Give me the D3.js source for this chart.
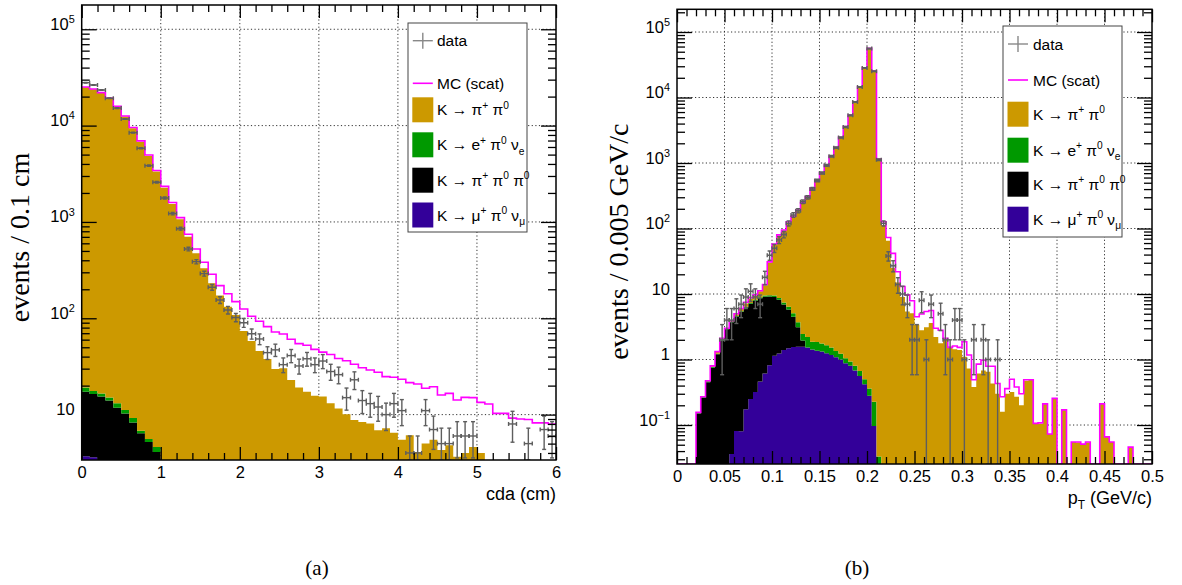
<!DOCTYPE html>
<html>
<head>
<meta charset="utf-8">
<script src="https://cdn.jsdelivr.net/npm/d3@7"></script>
<style>
  body { margin: 0; background: #fff; }
  svg { display: block; }
</style>
</head>
<body>
<div id="canvas"></div>
<script>
// ////////// DATA /////////////

// panel (a): cda, 60 bins of 0.1 cm
var cdaGold = [
  24980, 23780, 21780, 19080, 15690, 12390, 9390, 6790, 4830, 3325,
  2270, 1536, 1066, 703, 473, 330, 231, 172, 132, 108,
  74, 58, 45.7, 37.8, 29.8, 30.2, 22.9, 19.1, 17.3, 15.7,
  15.4, 13.1, 11.6, 10.1, 8.8, 8.4, 8.1, 6.9, 7.2, 6.5,
  5.5, 6.1, 4.1, 5.0, 5.5, 4.3, 4.8, 3.66, 4.0, 4.6,
  4.0, 0, 0, 0, 0, 0, 0, 0, 0, 0
]
var cdaGreen = [
  1.8, 1.2, 1.2, 1.1, 1.3, 0.9, 0.9, 0.4, 0.4, 0.5,
  0, 0, 0, 0, 0, 0, 0, 0, 0, 0,
  0, 0, 0, 0, 0, 0, 0, 0, 0, 0,
  0, 0, 0, 0, 0, 0, 0, 0, 0, 0,
  0, 0, 0, 0, 0, 0, 0, 0, 0, 0,
  0, 0, 0, 0, 0, 0, 0, 0, 0, 0
]
var cdaBlack = [
  13.6, 12.8, 15.4, 14.0, 11.8, 10.3, 8.3, 6.4, 5.2, 4.1,
  0, 0, 0, 0, 0, 0, 0, 0, 0, 0,
  0, 0, 0, 0, 0, 0, 0, 0, 0, 0,
  0, 0, 0, 0, 0, 0, 0, 0, 0, 0,
  0, 0, 0, 0, 0, 0, 0, 0, 0, 0,
  0, 0, 0, 0, 0, 0, 0, 0, 0, 0
]
var cdaPurple = [
  3.7, 3.6, 0, 0, 0, 0, 0, 0, 0, 0,
  0, 0, 0, 0, 0, 0, 0, 0, 0, 0,
  0, 0, 0, 0, 0, 0, 0, 0, 0, 0,
  0, 0, 0, 0, 0, 0, 0, 0, 0, 0,
  0, 0, 0, 0, 0, 0, 0, 0, 0, 0,
  0, 0, 0, 0, 0, 0, 0, 0, 0, 0
]
var cdaMC = [
  25200, 24000, 22000, 19300, 15900, 12600, 9550, 6950, 4950, 3420,
  2340, 1590, 1110, 745, 524, 381, 286, 218, 180, 149,
  125, 105, 93, 82, 72, 68.7, 60.5, 54.5, 52.5, 47.6,
  44.5, 42, 38.2, 36.3, 33.3, 30.7, 29, 27.5, 24.8, 24.4,
  23.3, 21.5, 20.8, 18.8, 19.5, 16, 16.6, 14.2, 15.1, 15,
  13.4, 12.9, 10.3, 10.3, 9.2, 9.0, 8.9, 8.2, 8.2, 8.0
]
var cdaData = [
  27900, 26400, 23400, 19200, 15200, 11700, 8450, 5820, 3840, 2580,
  1770, 1220, 851, 524, 387, 291, 210, 155, 122, 102,
  90, 69, 61, 44, 47, 33, 41, 32, 38, 33,
  36, 28, 26, 15, 23, 14, 13, 12, 10, 13,
  11, 4, 4, 11, 7, 5, 5, 6, 6, 6,
  0, 0, 0, 0, 8, 0, 5, 0, 7, 6
]

// panel (b): pT, 100 bins of 0.005 GeV/c
var ptGold = [
  0, 0, 0, 0, 0.003, 0.005, 0.01, 0.02, 0.07, 0.08,
  0.02, 0.1, 0.28, 0.45, 0.8, 1.2, 1.35, 2.1, 4.0, 20.4,
  46.5, 69.3, 85.5, 117.6, 146.9, 184.3, 242.5, 297.8, 403, 543,
  703, 923, 1268, 1718, 2449, 3559, 5349, 8549, 14499, 28300,
  56000, 25200, 1100, 113, 65, 25, 15, 9, 5.4, 5.1,
  3.4, 2.8, 3.1, 3.6, 2.2, 1.77, 1.99, 1.57, 1.43, 1.4,
  1.1, 0.73, 0.38, 0.61, 0.68, 0.65, 0.43, 0.3, 0.16, 0.3,
  0.32, 0.27, 0.2, 0.475, 0.49, 0.106, 0.105, 0.21, 0.073, 0.255,
  0, 0.17, 0, 0.055, 0.054, 0.051, 0.054, 0, 0, 0.21,
  0.066, 0.055, 0, 0, 0, 0.046, 0, 0, 0, 0
]
var ptGreen = [
  0, 0, 0, 0, 0.005, 0.01, 0.015, 0.02, 0.03, 0.05,
  0.08, 0.1, 0.12, 0.15, 0.18, 0.2, 0.25, 0.3, 0.35, 0.4,
  0.45, 0.5, 0.55, 0.6, 0.6, 0.6, 0.5, 0.68, 0.45, 0.49,
  0.43, 0.4, 0.36, 0.27, 0.22, 0.17, 0.13, 0.12, 0.11, 0.08,
  0.08, 0.13, 0.033, 0, 0, 0, 0, 0, 0, 0,
  0, 0, 0, 0, 0, 0, 0, 0, 0, 0,
  0, 0, 0, 0, 0, 0, 0, 0, 0, 0,
  0, 0, 0, 0, 0, 0, 0, 0, 0, 0,
  0, 0, 0, 0, 0, 0, 0, 0, 0, 0,
  0, 0, 0, 0, 0, 0, 0, 0, 0, 0
]
var ptBlack = [
  0, 0, 0, 0, 0.15, 0.26, 0.45, 0.75, 1.2, 1.95,
  2.9, 3.66, 4.42, 5.22, 6.03, 6.85, 7.58, 8.14, 8.49, 8.38,
  7.86, 6.96, 5.5, 4.32, 2.95, 1.53, 0.38, 0, 0, 0,
  0, 0, 0, 0, 0, 0, 0, 0, 0, 0,
  0, 0, 0, 0, 0, 0, 0, 0, 0, 0,
  0, 0, 0, 0, 0, 0, 0, 0, 0, 0,
  0, 0, 0, 0, 0, 0, 0, 0, 0, 0,
  0, 0, 0, 0, 0, 0, 0, 0, 0, 0,
  0, 0, 0, 0, 0, 0, 0, 0, 0, 0,
  0, 0, 0, 0, 0, 0, 0, 0, 0, 0
]
var ptPurple = [
  0, 0, 0, 0, 0, 0, 0, 0, 0, 0,
  0, 0.036, 0.081, 0.08, 0.174, 0.25, 0.32, 0.46, 0.61, 0.82,
  1.14, 1.24, 1.40, 1.48, 1.55, 1.57, 1.57, 1.52, 1.42, 1.36,
  1.32, 1.25, 1.17, 1.08, 1.0, 0.88, 0.80, 0.68, 0.56, 0.42,
  0.28, 0.097, 0, 0, 0, 0, 0, 0, 0, 0,
  0, 0, 0, 0, 0, 0, 0, 0, 0, 0,
  0, 0, 0, 0, 0, 0, 0, 0, 0, 0,
  0, 0, 0, 0, 0, 0, 0, 0, 0, 0,
  0, 0, 0, 0, 0, 0, 0, 0, 0, 0,
  0, 0, 0, 0, 0, 0, 0, 0, 0, 0
]
var ptMC = [
  0, 0, 0, 0, 0.156, 0.27, 0.475, 0.80, 1.32, 2.11,
  3.0, 3.9, 5.0, 6.0, 7.5, 8.8, 9.7, 11.2, 14, 31,
  58, 80, 95, 127, 155, 191, 250, 306, 410, 550,
  711, 932, 1280, 1735, 2470, 3590, 5400, 8630, 14600, 28500,
  56300, 25400, 1150, 127, 73, 41.8, 21.9, 13, 9.7, 7.9,
  4.5, 4.95, 5.4, 5.6, 3.0, 2.8, 2.1, 1.53, 1.61, 1.53,
  1.87, 1.17, 0.49, 0.85, 0.98, 0.79, 0.79, 0.43, 0.27, 0.36,
  0.5, 0.38, 0.3, 0.49, 0.49, 0.106, 0.108, 0.21, 0.073, 0.255,
  0, 0.17, 0, 0.055, 0.055, 0.051, 0.055, 0, 0, 0.21,
  0.066, 0.055, 0, 0, 0, 0.046, 0, 0, 0, 0
]
var ptData = [
  0, 0, 0, 0, 0, 0, 0, 0, 0, 2,
  4, 4, 6, 7, 9, 11, 9, 7, 18, 39,
  50, 67, 81, 120, 161, 187, 257, 300, 402, 541,
  702, 921, 1268, 1713, 2445, 3553, 5338, 8545, 14480, 28320,
  55870, 25150, 1122, 120, 38, 27, 14, 10, 7, 2,
  2, 8, 1, 7, 0, 5, 2, 1, 4, 4,
  1, 0, 2, 0, 2, 1, 0, 1, 0, 0,
  0, 0, 0, 0, 0, 0, 0, 0, 0, 0,
  0, 0, 0, 0, 0, 0, 0, 0, 0, 0,
  0, 0, 0, 0, 0, 0, 0, 0, 0, 0
]

var cdaTicks = [0, 1, 2, 3, 4, 5, 6]
var ptTicks = [0, 0.05, 0.1, 0.15, 0.2, 0.25, 0.3, 0.35, 0.4, 0.45, 0.5]

var legendLabels = [
  [["data"]],
  [["MC (scat)"]],
  [["K \u2192 \u03c0"], ["+", "sup"], [" \u03c0"], ["0", "sup"]],
  [["K \u2192 e"], ["+", "sup"], [" \u03c0"], ["0", "sup"], [" \u03bd"], ["e", "sub"]],
  [["K \u2192 \u03c0"], ["+", "sup"], [" \u03c0"], ["0", "sup"], [" \u03c0"], ["0", "sup"]],
  [["K \u2192 \u03bc"], ["+", "sup"], [" \u03c0"], ["0", "sup"], [" \u03bd"], ["\u03bc", "sub"]]
]

///////// GLOBAL VARS //////////

var width = 1182, height = 585
var colors = { gold: "#cc9900", green: "#009900", black: "#000000", purple: "#330099", mc: "#ff00ff", data: "#5e5e5e" }
var sans = "'Liberation Sans', Arial, Helvetica, sans-serif"
var serif = "'Liberation Serif', 'Times New Roman', serif"
var tickFont = 16.5

var svg = d3.select("#canvas")
  .append("svg")
  .attr("width", width)
  .attr("height", height)
  .style("background-color", "#fff")

// writes text made of plain / superscript / subscript pieces
function richText(t, parts, size) {
  var shift = 0
  parts.forEach(p => {
    var target = p[1] == "sup" ? -0.42 * size : p[1] == "sub" ? 0.3 * size : 0
    t.append("tspan")
      .attr("dy", target - shift)
      .attr("font-size", p[1] ? size * 0.66 : size)
      .text(p[0])
    shift = target
  })
}

function logLabel(d) {
  var e = Math.round(Math.log10(d))
  if (e == 0) return [["1"]]
  if (e == 1) return [["10"]]
  return [["10"], [e < 0 ? "\u2212" + (-e) : String(e), "sup"]]
}

function drawPanel(p) {
  var n = p.gold.length
  var bw = (p.xDomain[1] - p.xDomain[0]) / n

  var x = d3.scaleLinear().domain(p.xDomain).range([p.left, p.right])
  var y = d3.scaleLog().domain(p.yDomain).range([p.bottom, p.top]).clamp(true)

  var g = svg.append("g")

  g.append("clipPath").attr("id", "clip-" + p.name)
    .append("rect")
    .attr("x", p.left).attr("y", p.top)
    .attr("width", p.right - p.left).attr("height", p.bottom - p.top)

  // grid
  var decades = p.yMajor
  var grid = g.append("g")
  grid.selectAll("line.gx")
    .data(p.xTicks.filter(v => v > p.xDomain[0] && v < p.xDomain[1]))
    .join("line")
    .attr("x1", d => x(d)).attr("x2", d => x(d))
    .attr("y1", p.top).attr("y2", p.bottom)
  grid.selectAll("line.gy")
    .data(decades)
    .join("line")
    .attr("x1", p.left).attr("x2", p.right)
    .attr("y1", d => y(d)).attr("y2", d => y(d))
  grid.selectAll("line")
    .attr("stroke", "#333")
    .attr("stroke-width", 1)
    .attr("stroke-dasharray", "1.2,2.4")

  var plot = g.append("g").attr("clip-path", "url(#clip-" + p.name + ")")

  // stacked histograms
  var rows = p.gold.map((v, i) => ({ purple: p.purple[i], black: p.black[i], green: p.green[i], gold: v }))
  var series = d3.stack().keys(["purple", "black", "green", "gold"])(rows)

  var area = d3.area()
    .curve(d3.curveStepAfter)
    .x(d => x(d.x))
    .y0(d => y(d.y0))
    .y1(d => y(d.y1))

  series.forEach(s => {
    var pts = s.map((d, i) => ({ x: p.xDomain[0] + i * bw, y0: d[0], y1: d[1] }))
    pts.push({ x: p.xDomain[1], y0: s[n - 1][0], y1: s[n - 1][1] })
    plot.append("path")
      .attr("d", area(pts))
      .attr("fill", colors[s.key])
      .attr("stroke", "none")
  })

  // MC (scat) outline
  var mcPts = p.mc.map((v, i) => ({ x: p.xDomain[0] + i * bw, v: v }))
  mcPts.push({ x: p.xDomain[1], v: p.mc[n - 1] })
  plot.append("path")
    .attr("d", d3.line().curve(d3.curveStepAfter).x(d => x(d.x)).y(d => y(Math.max(d.v, 1e-9)))(mcPts))
    .attr("fill", "none")
    .attr("stroke", colors.mc)
    .attr("stroke-width", 1.6)

  // data points with error bars
  var pts = p.data.map((v, i) => ({ i: i, v: v })).filter(d => d.v > 0)
  var dg = plot.append("g")
    .attr("stroke", colors.data)
    .attr("stroke-width", 1.4)
  pts.forEach(d => {
    var xl = x(p.xDomain[0] + d.i * bw), xr = x(p.xDomain[0] + (d.i + 1) * bw)
    var xc = (xl + xr) / 2
    var err = Math.sqrt(d.v)
    var yc = y(d.v), yt = y(d.v + err), yb = y(Math.max(d.v - err, 1e-9))
    dg.append("line").attr("x1", xl).attr("x2", xr).attr("y1", yc).attr("y2", yc)
    dg.append("line").attr("x1", xc).attr("x2", xc).attr("y1", yt).attr("y2", yb)
    dg.append("line").attr("x1", xc - 2).attr("x2", xc + 2).attr("y1", yt).attr("y2", yt)
    dg.append("line").attr("x1", xc - 2).attr("x2", xc + 2).attr("y1", yb).attr("y2", yb)
    dg.append("line").attr("x1", xl).attr("x2", xl).attr("y1", yc - 2).attr("y2", yc + 2)
    dg.append("line").attr("x1", xr).attr("x2", xr).attr("y1", yc - 2).attr("y2", yc + 2)
  })

  // axes (ticks pointing inward on all four sides)
  var xMinor = p.xMinor
  var yMinor = []
  for (var e = Math.floor(Math.log10(p.yDomain[0])); e <= Math.ceil(Math.log10(p.yDomain[1])); e++) {
    for (var m = 2; m <= 9; m++) {
      var v = m * Math.pow(10, e)
      if (v > p.yDomain[0] && v < p.yDomain[1]) yMinor.push(v)
    }
  }

  var axes = g.append("g")
  axes.append("g").attr("transform", `translate(0,${p.bottom})`)
    .call(d3.axisBottom(x).tickValues(p.xTicks).tickSize(-13).tickPadding(6).tickFormat(p.xFormat))
  axes.append("g").attr("transform", `translate(0,${p.bottom})`)
    .call(d3.axisBottom(x).tickValues(xMinor).tickSize(-7).tickFormat(""))
  axes.append("g").attr("transform", `translate(0,${p.top})`)
    .call(d3.axisTop(x).tickValues(p.xTicks).tickSize(-13).tickFormat(""))
  axes.append("g").attr("transform", `translate(0,${p.top})`)
    .call(d3.axisTop(x).tickValues(xMinor).tickSize(-7).tickFormat(""))

  var yAxis = axes.append("g").attr("transform", `translate(${p.left},0)`)
    .call(d3.axisLeft(y).tickValues(decades).tickSize(-15).tickPadding(7))
  axes.append("g").attr("transform", `translate(${p.left},0)`)
    .call(d3.axisLeft(y).tickValues(yMinor).tickSize(-8).tickFormat(""))
  axes.append("g").attr("transform", `translate(${p.right},0)`)
    .call(d3.axisRight(y).tickValues(decades).tickSize(-15).tickFormat(""))
  axes.append("g").attr("transform", `translate(${p.right},0)`)
    .call(d3.axisRight(y).tickValues(yMinor).tickSize(-8).tickFormat(""))

  axes.selectAll(".domain").remove()
  axes.selectAll(".tick line").attr("stroke", "#000").attr("stroke-width", 1.3)
  axes.selectAll(".tick text")
    .attr("font-family", sans)
    .attr("font-size", tickFont)
    .attr("fill", "#000")

  yAxis.selectAll(".tick text").each(function (d) {
    var t = d3.select(this).text(null).attr("dy", "0.42em")
    richText(t, logLabel(d), tickFont)
  })

  // frame
  g.append("rect")
    .attr("x", p.left).attr("y", p.top)
    .attr("width", p.right - p.left).attr("height", p.bottom - p.top)
    .attr("fill", "none")
    .attr("stroke", "#000")
    .attr("stroke-width", 1.5)

  // axis titles
  var xt = g.append("text")
    .attr("x", p.right).attr("y", p.bottom + 40)
    .attr("text-anchor", "end")
    .attr("font-family", sans)
    .attr("font-size", 18)
  richText(xt, p.xTitle, 18)

  g.append("text")
    .attr("transform", `translate(${p.yTitleX},${(p.top + p.bottom) / 2 + 5}) rotate(-90)`)
    .attr("text-anchor", "middle")
    .attr("font-family", serif)
    .attr("font-size", 28)
    .text(p.yTitle)

  // caption
  g.append("text")
    .attr("x", p.captionX).attr("y", 575)
    .attr("text-anchor", "middle")
    .attr("font-family", serif)
    .attr("font-size", 21)
    .text(p.caption)

  // legend
  var L = p.legend
  var lg = g.append("g")
  lg.append("rect")
    .attr("x", L.x0).attr("y", L.y0)
    .attr("width", L.x1 - L.x0).attr("height", L.y1 - L.y0)
    .attr("fill", "#fff")
    .attr("stroke", "#444")
    .attr("stroke-width", 1)

  var swatchKeys = ["gold", "green", "black", "purple"]
  legendLabels.forEach((lab, k) => {
    var cy = L.rows[k]
    if (k == 0) {
      lg.append("line").attr("x1", L.cx - 10).attr("x2", L.cx + 10).attr("y1", cy).attr("y2", cy)
        .attr("stroke", "#888").attr("stroke-width", 1.4)
      lg.append("line").attr("x1", L.cx).attr("x2", L.cx).attr("y1", cy - 8).attr("y2", cy + 8)
        .attr("stroke", "#888").attr("stroke-width", 1.4)
    } else if (k == 1) {
      lg.append("line").attr("x1", L.cx - 10).attr("x2", L.cx + 10).attr("y1", cy).attr("y2", cy)
        .attr("stroke", colors.mc).attr("stroke-width", 1.6)
    } else {
      lg.append("rect")
        .attr("x", L.cx - 10.5).attr("y", cy - 12.5)
        .attr("width", 21).attr("height", 25)
        .attr("fill", colors[swatchKeys[k - 2]])
    }
    var t = lg.append("text")
      .attr("x", L.tx).attr("y", cy + 5.5)
      .attr("font-family", sans)
      .attr("font-size", 15.5)
    richText(t, lab, 15.5)
  })
}

drawPanel({
  name: "a",
  left: 81.7, right: 556, top: 5, bottom: 460,
  xDomain: [0, 6],
  yDomain: [3.38, 178600],
  yMajor: [10, 100, 1000, 10000, 100000],
  xTicks: cdaTicks,
  xMinor: d3.range(0, 6.001, 0.2).filter(v => Math.abs(v - Math.round(v)) > 1e-6),
  xFormat: d => String(d),
  gold: cdaGold, green: cdaGreen, black: cdaBlack, purple: cdaPurple,
  mc: cdaMC, data: cdaData,
  xTitle: [["cda (cm)"]],
  yTitle: "events / 0.1 cm",
  yTitleX: 28.5,
  caption: "(a)", captionX: 317,
  legend: { x0: 408, y0: 23, x1: 527, y1: 232, cx: 422.8, tx: 437, rows: [40.7, 83.3, 109.8, 144.8, 180.2, 215] }
})

drawPanel({
  name: "b",
  left: 677, right: 1152, top: 9.3, bottom: 464,
  xDomain: [0, 0.5],
  yDomain: [0.0254, 222200],
  yMajor: [0.1, 1, 10, 100, 1000, 10000, 100000],
  xTicks: ptTicks,
  xMinor: d3.range(0, 0.5001, 0.01).filter(v => Math.abs(v / 0.05 - Math.round(v / 0.05)) > 1e-6),
  xFormat: d => d == 0 ? "0" : String(+d.toFixed(2)),
  gold: ptGold, green: ptGreen, black: ptBlack, purple: ptPurple,
  mc: ptMC, data: ptData,
  xTitle: [["p"], ["T", "sub"], [" (GeV/c)"]],
  yTitle: "events / 0.005 GeV/c",
  yTitleX: 628,
  caption: "(b)", captionX: 857,
  legend: { x0: 1003, y0: 26, x1: 1122, y1: 237, cx: 1018, tx: 1033, rows: [44, 80, 114.2, 150.2, 184.2, 219.2] }
})
</script>
</body>
</html>
